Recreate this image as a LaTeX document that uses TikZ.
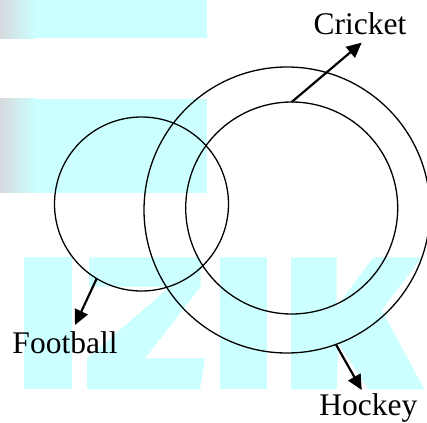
\documentclass[tikz,border=0pt]{standalone}
\usepackage{fontspec}
\setmainfont{Liberation Serif}
\usetikzlibrary{arrows.meta}
\definecolor{wmcyan}{RGB}{204,255,255}
\definecolor{wmgray}{RGB}{214,217,221}
\tikzset{
  wm/.style={fill=wmcyan, draw=none},
  ring/.style={circle, draw=black, line width=1.3pt, inner sep=0pt, outer sep=0pt},
  arr/.style={line width=2.2pt, -{Triangle[length=15pt,width=14pt]}},
  lbl/.style={font=\fontsize{31.5}{36}\selectfont, inner sep=0pt, anchor=base}
}
\begin{document}
\begin{tikzpicture}[x=1pt,y=-1pt]
\useasboundingbox (0,0) rectangle (427,422);
\fill[white] (0,0) rectangle (427,422);
% watermark bars
\shade[left color=wmgray, right color=wmcyan, draw=none] (0,0) rectangle (36,38.3);
\fill[wm] (35.5,0) rectangle (206.7,38.3);
\shade[left color=wmgray, right color=wmcyan, draw=none] (0,99) rectangle (36,192.7);
\fill[wm] (35.5,99) rectangle (206.7,192.7);
% watermark letters IZIK
\fill[wm] (24,257.3) rectangle (71.7,389.3);
\fill[wm] (89,257.3) -- (200.7,257.3) -- (200.7,286.7) -- (145,358.3) -- (205,358.3)
  -- (200,389.3) -- (87,389.3) -- (87,358.3) -- (170,286.7) -- (89,286.7) -- cycle;
\fill[wm] (220,257.3) rectangle (266.7,389.3);
\fill[wm] (291,257.3) -- (336.7,257.3) -- (336.7,306.7) -- (373.3,257.3) -- (421.7,257.3)
  -- (381.7,310) -- (424.3,389.3) -- (368.3,389.3) -- (338.3,343.3) -- (336.7,389.3)
  -- (291,389.3) -- cycle;
% circles
\node[ring, minimum size=174pt] (football) at (141.5,204) {};
\node[ring, minimum size=286pt] (hockey) at (287,210) {};
\node[ring, minimum size=212pt] (cricket) at (291.7,208) {};
% labels
\node[lbl] (cricketlbl) at (360,34.3) {Cricket};
\node[lbl] (footballlbl) at (65,353.3) {Football};
\node[lbl] (hockeylbl) at (368.3,415) {Hockey};
% arrow tips
\coordinate (ctip) at (361.7,42.7);
\coordinate (ftip) at (75,325);
\coordinate (htip) at (361.7,390);
\draw[arr] (cricket.90.9) -- (ctip);
\draw[arr] (football.239.2) -- (ftip);
\draw[arr] (hockey.290.8) -- (htip);
\end{tikzpicture}
\end{document}
